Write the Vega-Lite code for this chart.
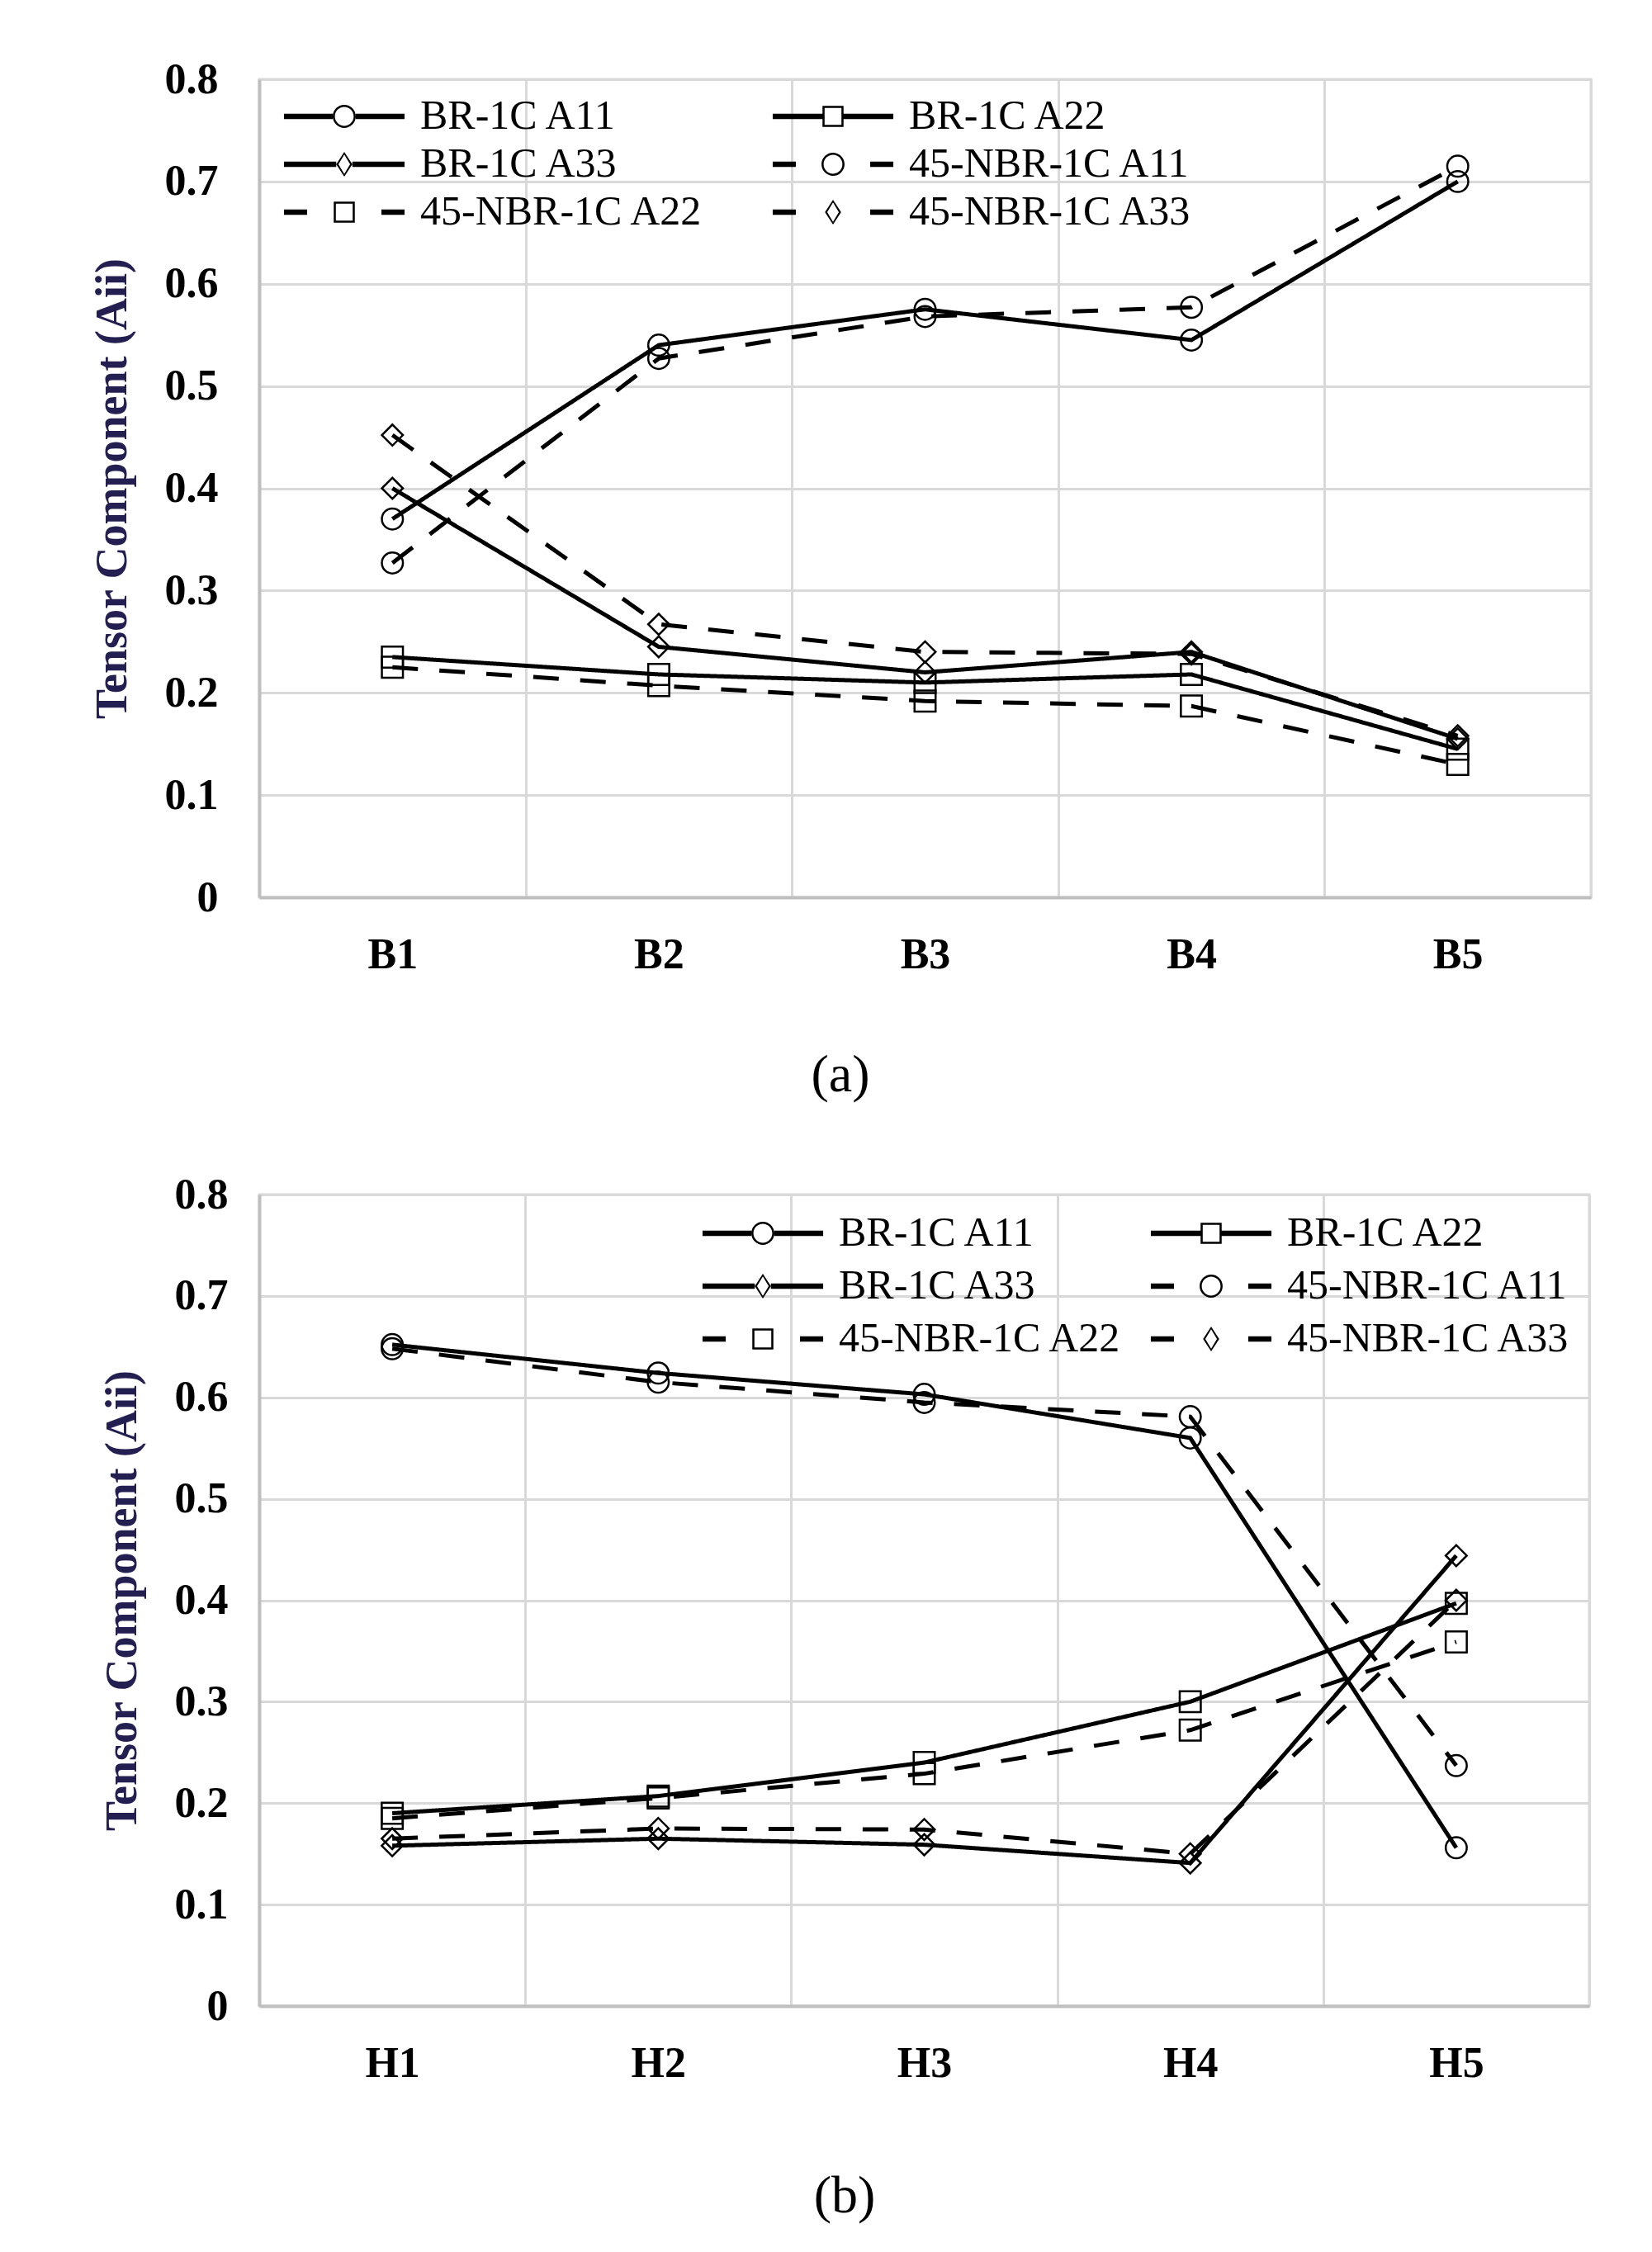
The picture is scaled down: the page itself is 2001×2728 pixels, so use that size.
{
  "$schema": "https://vega.github.io/schema/vega-lite/v6.json",
  "background": "white",
  "padding": {"left": 107, "top": 68, "right": 10, "bottom": 10},
  "spacing": 82,
  "datasets": {
    "a": [
      {"pos": "B1", "series": "BR-1C A11", "v": 0.37},
      {"pos": "B2", "series": "BR-1C A11", "v": 0.54},
      {"pos": "B3", "series": "BR-1C A11", "v": 0.575},
      {"pos": "B4", "series": "BR-1C A11", "v": 0.545},
      {"pos": "B5", "series": "BR-1C A11", "v": 0.7},
      {"pos": "B1", "series": "BR-1C A22", "v": 0.235},
      {"pos": "B2", "series": "BR-1C A22", "v": 0.218},
      {"pos": "B3", "series": "BR-1C A22", "v": 0.21},
      {"pos": "B4", "series": "BR-1C A22", "v": 0.218},
      {"pos": "B5", "series": "BR-1C A22", "v": 0.145},
      {"pos": "B1", "series": "BR-1C A33", "v": 0.4},
      {"pos": "B2", "series": "BR-1C A33", "v": 0.245},
      {"pos": "B3", "series": "BR-1C A33", "v": 0.22},
      {"pos": "B4", "series": "BR-1C A33", "v": 0.24},
      {"pos": "B5", "series": "BR-1C A33", "v": 0.155},
      {"pos": "B1", "series": "45-NBR-1C A11", "v": 0.327},
      {"pos": "B2", "series": "45-NBR-1C A11", "v": 0.527},
      {"pos": "B3", "series": "45-NBR-1C A11", "v": 0.568},
      {"pos": "B4", "series": "45-NBR-1C A11", "v": 0.577},
      {"pos": "B5", "series": "45-NBR-1C A11", "v": 0.715},
      {"pos": "B1", "series": "45-NBR-1C A22", "v": 0.225},
      {"pos": "B2", "series": "45-NBR-1C A22", "v": 0.207},
      {"pos": "B3", "series": "45-NBR-1C A22", "v": 0.192},
      {"pos": "B4", "series": "45-NBR-1C A22", "v": 0.187},
      {"pos": "B5", "series": "45-NBR-1C A22", "v": 0.13},
      {"pos": "B1", "series": "45-NBR-1C A33", "v": 0.452},
      {"pos": "B2", "series": "45-NBR-1C A33", "v": 0.267},
      {"pos": "B3", "series": "45-NBR-1C A33", "v": 0.24},
      {"pos": "B4", "series": "45-NBR-1C A33", "v": 0.238},
      {"pos": "B5", "series": "45-NBR-1C A33", "v": 0.158}
    ],
    "b": [
      {"pos": "H1", "series": "BR-1C A11", "v": 0.652},
      {"pos": "H2", "series": "BR-1C A11", "v": 0.624},
      {"pos": "H3", "series": "BR-1C A11", "v": 0.603},
      {"pos": "H4", "series": "BR-1C A11", "v": 0.56},
      {"pos": "H5", "series": "BR-1C A11", "v": 0.156},
      {"pos": "H1", "series": "BR-1C A22", "v": 0.19},
      {"pos": "H2", "series": "BR-1C A22", "v": 0.207},
      {"pos": "H3", "series": "BR-1C A22", "v": 0.24},
      {"pos": "H4", "series": "BR-1C A22", "v": 0.3},
      {"pos": "H5", "series": "BR-1C A22", "v": 0.397},
      {"pos": "H1", "series": "BR-1C A33", "v": 0.158},
      {"pos": "H2", "series": "BR-1C A33", "v": 0.165},
      {"pos": "H3", "series": "BR-1C A33", "v": 0.159},
      {"pos": "H4", "series": "BR-1C A33", "v": 0.141},
      {"pos": "H5", "series": "BR-1C A33", "v": 0.444},
      {"pos": "H1", "series": "45-NBR-1C A11", "v": 0.648},
      {"pos": "H2", "series": "45-NBR-1C A11", "v": 0.615},
      {"pos": "H3", "series": "45-NBR-1C A11", "v": 0.595},
      {"pos": "H4", "series": "45-NBR-1C A11", "v": 0.581},
      {"pos": "H5", "series": "45-NBR-1C A11", "v": 0.237},
      {"pos": "H1", "series": "45-NBR-1C A22", "v": 0.185},
      {"pos": "H2", "series": "45-NBR-1C A22", "v": 0.205},
      {"pos": "H3", "series": "45-NBR-1C A22", "v": 0.229},
      {"pos": "H4", "series": "45-NBR-1C A22", "v": 0.272},
      {"pos": "H5", "series": "45-NBR-1C A22", "v": 0.359},
      {"pos": "H1", "series": "45-NBR-1C A33", "v": 0.165},
      {"pos": "H2", "series": "45-NBR-1C A33", "v": 0.175},
      {"pos": "H3", "series": "45-NBR-1C A33", "v": 0.174},
      {"pos": "H4", "series": "45-NBR-1C A33", "v": 0.15},
      {"pos": "H5", "series": "45-NBR-1C A33", "v": 0.4}
    ]
  },
  "config": {
    "font": "Liberation Serif",
    "view": {"stroke": "#D9D9D9", "strokeWidth": 3},
    "axis": {
      "labelFont": "Liberation Serif",
      "labelFontWeight": "bold",
      "labelFontSize": 52,
      "labelColor": "black",
      "gridColor": "#D9D9D9",
      "gridWidth": 3,
      "domainColor": "#BFBFBF",
      "domainWidth": 4,
      "ticks": false,
      "titleFont": "Liberation Serif"
    },
    "legend": {
      "labelFont": "Liberation Serif",
      "labelFontSize": 50,
      "labelColor": "black",
      "labelLimit": 0
    },
    "title": {"font": "Liberation Serif", "fontSize": 64, "fontWeight": "normal", "color": "black"}
  },
  "vconcat": [
    {
      "width": 1613,
      "height": 991,
      "data": {"name": "a"},
      "title": {"text": "(a)", "orient": "bottom", "anchor": "middle", "frame": "bounds", "offset": 89},
      "encoding": {
        "x": {
          "field": "pos", "type": "nominal", "bandPosition": 0.5,
          "scale": {"type": "band", "paddingInner": 0, "paddingOuter": 0},
          "axis": {"title": null, "labelAngle": 0, "labelPadding": 44, "tickBand": "extent", "grid": true}
        },
        "y": {
          "field": "v", "type": "quantitative",
          "scale": {"domain": [0, 0.8], "nice": false},
          "axis": {
            "values": [0, 0.1, 0.2, 0.3, 0.4, 0.5, 0.6, 0.7, 0.8], "format": ".1~f",
            "labelPadding": 50, "title": "Tensor Component  (Aii)",
            "titleFontSize": 54, "titleFontWeight": "bold", "titleColor": "#231F50", "titlePadding": 36
          }
        }
      },
      "layer": [
        {
          "mark": {"type": "line", "color": "black", "strokeWidth": 5},
          "encoding": {
            "strokeDash": {
              "field": "series", "type": "nominal", "legend": null,
              "scale": {
                "domain": ["BR-1C A11", "BR-1C A22", "BR-1C A33", "45-NBR-1C A11", "45-NBR-1C A22", "45-NBR-1C A33"],
                "range": [[1, 0], [1, 0], [1, 0], [31, 26], [31, 26], [31, 26]]
              }
            }
          }
        },
        {
          "mark": {"type": "point", "filled": false, "color": "black", "strokeWidth": 2.5, "size": 650, "opacity": 1},
          "encoding": {
            "shape": {
              "field": "series", "type": "nominal", "legend": null,
              "scale": {
                "domain": ["BR-1C A11", "BR-1C A22", "BR-1C A33", "45-NBR-1C A11", "45-NBR-1C A22", "45-NBR-1C A33"],
                "range": ["circle", "square", "diamond", "circle", "square", "diamond"]
              }
            }
          }
        },
        {
          "mark": {"type": "point", "filled": true, "color": "black", "opacity": 0},
          "encoding": {
            "shape": {
              "field": "series", "type": "nominal",
              "scale": {
                "domain": ["BR-1C A11", "BR-1C A22", "BR-1C A33", "45-NBR-1C A11", "45-NBR-1C A22", "45-NBR-1C A33"],
                "range": [
                  "M-4.87,-0.22H-0.93V0.22H-4.87ZM0.93,-0.22H4.87V0.22H0.93ZM0.93,0A0.93,0.93,0,1,1,-0.93,0A0.93,0.93,0,1,1,0.93,0ZM0.76,0A0.76,0.76,0,1,0,-0.76,0A0.76,0.76,0,1,0,0.76,0Z",
                  "M-4.87,-0.22H-0.85V0.22H-4.87ZM0.85,-0.22H4.87V0.22H0.85ZM-0.85,-0.85H0.85V0.85H-0.85ZM-0.68,-0.68V0.68H0.68V-0.68Z",
                  "M-4.87,-0.22H-0.65V0.22H-4.87ZM0.65,-0.22H4.87V0.22H0.65ZM0,-1L0.65,0L0,1L-0.65,0ZM0,-0.78L-0.47,0L0,0.78L0.47,0Z",
                  "M-4.87,-0.22H-3V0.22H-4.87ZM3,-0.22H4.87V0.22H3ZM0.93,0A0.93,0.93,0,1,1,-0.93,0A0.93,0.93,0,1,1,0.93,0ZM0.76,0A0.76,0.76,0,1,0,-0.76,0A0.76,0.76,0,1,0,0.76,0Z",
                  "M-4.87,-0.22H-3V0.22H-4.87ZM3,-0.22H4.87V0.22H3ZM-0.85,-0.85H0.85V0.85H-0.85ZM-0.68,-0.68V0.68H0.68V-0.68Z",
                  "M-4.87,-0.22H-3V0.22H-4.87ZM3,-0.22H4.87V0.22H3ZM0,-1L0.65,0L0,1L-0.65,0ZM0,-0.78L-0.47,0L0,0.78L0.47,0Z"
                ]
              },
              "legend": {
                "title": null, "orient": "top-left", "direction": "horizontal", "columns": 2,
                "columnPadding": 73, "rowPadding": 8,
                "symbolSize": 900, "symbolOffset": 58, "symbolStrokeWidth": 0, "symbolOpacity": 1,
                "labelOffset": 67, "offset": 20, "padding": 0
              }
            }
          }
        }
      ],
      "resolve": {"scale": {"shape": "independent"}}
    },
    {
      "width": 1611,
      "height": 983,
      "data": {"name": "b"},
      "title": {"text": "(b)", "orient": "bottom", "anchor": "middle", "frame": "bounds", "offset": 104},
      "encoding": {
        "x": {
          "field": "pos", "type": "nominal", "bandPosition": 0.5,
          "scale": {"type": "band", "paddingInner": 0, "paddingOuter": 0},
          "axis": {"title": null, "labelAngle": 0, "labelPadding": 44, "tickBand": "extent", "grid": true}
        },
        "y": {
          "field": "v", "type": "quantitative",
          "scale": {"domain": [0, 0.8], "nice": false},
          "axis": {
            "values": [0, 0.1, 0.2, 0.3, 0.4, 0.5, 0.6, 0.7, 0.8], "format": ".1~f",
            "labelPadding": 38, "title": "Tensor Component  (Aii)",
            "titleFontSize": 54, "titleFontWeight": "bold", "titleColor": "#231F50", "titlePadding": 36
          }
        }
      },
      "layer": [
        {
          "mark": {"type": "line", "color": "black", "strokeWidth": 5},
          "encoding": {
            "strokeDash": {
              "field": "series", "type": "nominal", "legend": null,
              "scale": {
                "domain": ["BR-1C A11", "BR-1C A22", "BR-1C A33", "45-NBR-1C A11", "45-NBR-1C A22", "45-NBR-1C A33"],
                "range": [[1, 0], [1, 0], [1, 0], [31, 26], [31, 26], [31, 26]]
              }
            }
          }
        },
        {
          "mark": {"type": "point", "filled": false, "color": "black", "strokeWidth": 2.5, "size": 650, "opacity": 1},
          "encoding": {
            "shape": {
              "field": "series", "type": "nominal", "legend": null,
              "scale": {
                "domain": ["BR-1C A11", "BR-1C A22", "BR-1C A33", "45-NBR-1C A11", "45-NBR-1C A22", "45-NBR-1C A33"],
                "range": ["circle", "square", "diamond", "circle", "square", "diamond"]
              }
            }
          }
        },
        {
          "mark": {"type": "point", "filled": true, "color": "black", "opacity": 0},
          "encoding": {
            "shape": {
              "field": "series", "type": "nominal",
              "scale": {
                "domain": ["BR-1C A11", "BR-1C A22", "BR-1C A33", "45-NBR-1C A11", "45-NBR-1C A22", "45-NBR-1C A33"],
                "range": [
                  "M-4.87,-0.22H-0.93V0.22H-4.87ZM0.93,-0.22H4.87V0.22H0.93ZM0.93,0A0.93,0.93,0,1,1,-0.93,0A0.93,0.93,0,1,1,0.93,0ZM0.76,0A0.76,0.76,0,1,0,-0.76,0A0.76,0.76,0,1,0,0.76,0Z",
                  "M-4.87,-0.22H-0.85V0.22H-4.87ZM0.85,-0.22H4.87V0.22H0.85ZM-0.85,-0.85H0.85V0.85H-0.85ZM-0.68,-0.68V0.68H0.68V-0.68Z",
                  "M-4.87,-0.22H-0.65V0.22H-4.87ZM0.65,-0.22H4.87V0.22H0.65ZM0,-1L0.65,0L0,1L-0.65,0ZM0,-0.78L-0.47,0L0,0.78L0.47,0Z",
                  "M-4.87,-0.22H-3V0.22H-4.87ZM3,-0.22H4.87V0.22H3ZM0.93,0A0.93,0.93,0,1,1,-0.93,0A0.93,0.93,0,1,1,0.93,0ZM0.76,0A0.76,0.76,0,1,0,-0.76,0A0.76,0.76,0,1,0,0.76,0Z",
                  "M-4.87,-0.22H-3V0.22H-4.87ZM3,-0.22H4.87V0.22H3ZM-0.85,-0.85H0.85V0.85H-0.85ZM-0.68,-0.68V0.68H0.68V-0.68Z",
                  "M-4.87,-0.22H-3V0.22H-4.87ZM3,-0.22H4.87V0.22H3ZM0,-1L0.65,0L0,1L-0.65,0ZM0,-0.78L-0.47,0L0,0.78L0.47,0Z"
                ]
              },
              "legend": {
                "title": null, "orient": "top-right", "direction": "horizontal", "columns": 2,
                "columnPadding": 24, "rowPadding": 14,
                "symbolSize": 900, "symbolOffset": 58, "symbolStrokeWidth": 0, "symbolOpacity": 1,
                "labelOffset": 67, "offset": 22, "padding": 0
              }
            }
          }
        }
      ],
      "resolve": {"scale": {"shape": "independent"}}
    }
  ]
}
